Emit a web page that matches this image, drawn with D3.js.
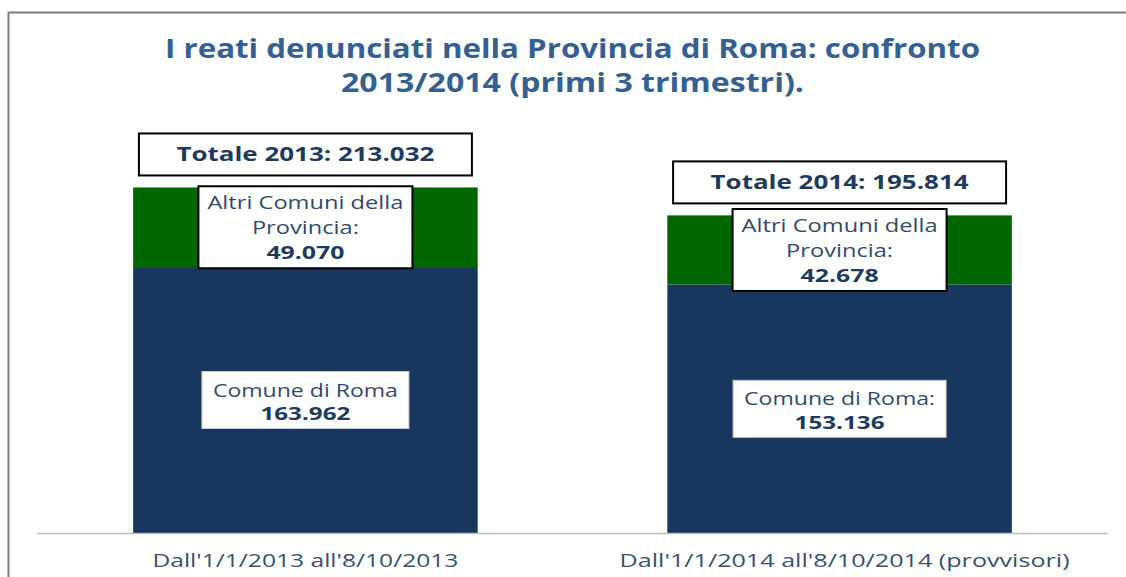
<!DOCTYPE html>
<html>
<head>
<meta charset="utf-8">
<script src="https://cdn.jsdelivr.net/npm/d3@7"></script>
<style>
  html, body { margin: 0; padding: 0; background: #fff; }
  svg { display: block; }
  text { font-family: "Open Sans", "DejaVu Sans", sans-serif; }
</style>
</head>
<body>
<svg id="chart" width="1126" height="577"></svg>
<script>
// ---- data ----
const categories = ["Dall'1/1/2013 all'8/10/2013", "Dall'1/1/2014 all'8/10/2014 (provvisori)"];
const romaValues = [163962, 153136];
const altriValues = [49070, 42678];
const totalLabels = ["Totale 2013: 213.032", "Totale 2014: 195.814"];
const romaLabels = [["Comune di Roma", "163.962"], ["Comune di Roma:", "153.136"]];
const altriLabels = [["Altri Comuni della", "Provincia:", "49.070"], ["Altri Comuni della", "Provincia:", "42.678"]];
const titleLines = ["I reati denunciati nella Provincia di Roma: confronto", "2013/2014 (primi 3 trimestri)."];

const svg = d3.select("#chart");

// frame
svg.append("path")
  .attr("d", "M8.5,578 L8.5,12.5 L1127,12.5")
  .attr("fill", "none").attr("stroke", "#7f7f7f").attr("stroke-width", 2);

// title
const titleW = [815, 463];
const titleY = [58, 92];
titleLines.forEach((t, i) => {
  svg.append("text").attr("x", 572.5).attr("y", titleY[i])
    .attr("text-anchor", "middle").attr("font-weight", "bold")
    .attr("font-size", 27).attr("fill", "#366092")
    .attr("textLength", titleW[i]).attr("lengthAdjust", "spacingAndGlyphs")
    .text(t);
});

// scales
const x = d3.scaleBand().domain(categories).range([37, 1108]).paddingInner(0.355).paddingOuter(0.18);
const y = d3.scaleLinear().domain([0, 250000]).range([533, 127.5]);

const data = categories.map((c, i) => ({
  cat: c, roma: romaValues[i], altri: altriValues[i], i
}));
const stack = d3.stack().keys(["roma", "altri"])(data);
const colors = { roma: "#17375E", altri: "#006600" };

stack.forEach(layer => {
  svg.append("g").selectAll("rect").data(layer).join("rect")
    .attr("x", d => x(d.data.cat))
    .attr("width", x.bandwidth())
    .attr("y", d => y(d[1]))
    .attr("height", d => y(d[0]) - y(d[1]))
    .attr("fill", colors[layer.key]);
});

// baseline
svg.append("line").attr("x1", 37).attr("x2", 1108).attr("y1", 533.5).attr("y2", 533.5)
  .attr("stroke", "#bfbfbf").attr("stroke-width", 1.5);

// category labels
const catW = [306, 450];
svg.append("g").selectAll("text").data(categories).join("text")
  .attr("x", (d, i) => x(d) + x.bandwidth() / 2 + (i === 1 ? 5 : 0))
  .attr("y", 567)
  .attr("text-anchor", "middle").attr("font-size", 17.5).attr("fill", "#3b4f6e")
  .attr("textLength", (d, i) => catW[i]).attr("lengthAdjust", "spacingAndGlyphs")
  .text(d => d);

function label(cx, cy, w, h, lines, border) {
  const g = svg.append("g");
  g.append("rect").attr("x", cx - w / 2).attr("y", cy - h / 2).attr("width", w).attr("height", h)
    .attr("fill", "#fff")
    .attr("stroke", border ? "#000" : "#c8c8c8")
    .attr("stroke-width", border ? 2 : 1);
  lines.forEach(l => {
    g.append("text").attr("x", cx).attr("y", cy + l.dy)
      .attr("text-anchor", "middle")
      .attr("font-size", l.size).attr("font-weight", l.bold ? "bold" : "normal")
      .attr("fill", l.bold ? "#1f3a5c" : "#34496a")
      .attr("textLength", l.w).attr("lengthAdjust", "spacingAndGlyphs")
      .text(l.t);
  });
}

data.forEach((d, i) => {
  const cx = x(d.cat) + x.bandwidth() / 2;
  const top = y(d.roma + d.altri);
  // total box
  label(cx, top - 12 - 21, 333, 42, [{ t: totalLabels[i], dy: 7, size: 19.5, bold: true, w: 258 }], true);
  // altri box
  const ac = (y(d.roma) + y(d.roma + d.altri)) / 2;
  label(cx, ac, 214, 82, [
    { t: altriLabels[i][0], dy: -18, size: 18.5, bold: false, w: 196 },
    { t: altriLabels[i][1], dy: 7, size: 18.5, bold: false, w: 107 },
    { t: altriLabels[i][2], dy: 32, size: 18.5, bold: true, w: 78 }
  ], true);
  // roma box
  const rc = (y(0) + y(d.roma)) / 2;
  label(cx, rc, i === 0 ? 207 : 213, 57, [
    { t: romaLabels[i][0], dy: -3.5, size: 17.5, bold: false, w: i === 0 ? 185 : 191 },
    { t: romaLabels[i][1], dy: 20, size: 17.5, bold: true, w: 90 }
  ], false);
});
</script>
</body>
</html>
